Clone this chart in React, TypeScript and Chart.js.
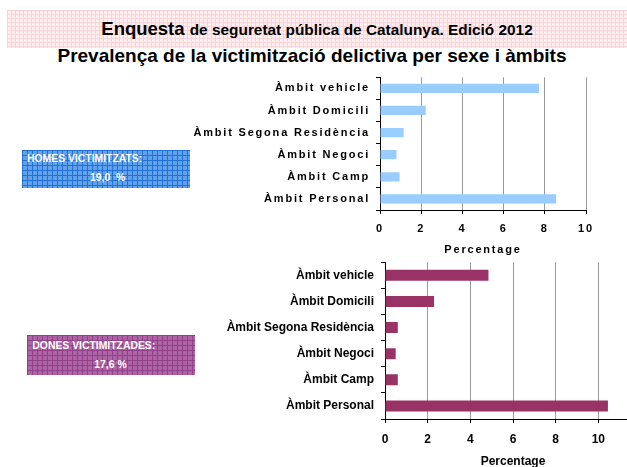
import React, { useEffect, useRef } from 'react';
import { Chart, registerables } from 'chart.js';

Chart.register(...registerables);

const categories = [
  'Àmbit vehicle',
  'Àmbit Domicili',
  'Àmbit Segona Residència',
  'Àmbit Negoci',
  'Àmbit Camp',
  'Àmbit Personal',
];
const homesValues = [7.72, 2.22, 1.15, 0.8, 0.95, 8.55];
const donesValues = [4.85, 2.3, 0.6, 0.5, 0.6, 10.45];
const homesMax = 10;
const donesMax = 12;
const tickStep = 2;
const axisTitle = 'Percentage';
const homesLabel = 'HOMES VICTIMITZATS:';
const homesTotal = '19,0  %';
const donesLabel = 'DONES VICTIMITZADES:';
const donesTotal = '17,6 %';

const FONT = '"Liberation Sans", Arial, Helvetica, sans-serif';

const spacingPlugin = (spacing: string) => ({
  id: 'letterSpacing' + spacing.replace(/\W/g, ''),
  beforeDraw(chart: any) {
    (chart.ctx as any).letterSpacing = spacing;
  },
});

function makeConfig(p: {
  values: number[];
  color: string;
  max: number;
  fontSize: number;
  padTop: number;
  padRight: number;
  yWidth: number;
  xHeight: number;
  yTickPad: number;
  xTickPad: number;
  titlePadBottom: number;
  spacing: string;
}): any {
  const font = { family: FONT, size: p.fontSize, weight: 'bold' as const };
  return {
    type: 'bar',
    data: {
      labels: categories,
      datasets: [
        {
          data: p.values,
          backgroundColor: p.color,
          borderWidth: 0,
          categoryPercentage: 1,
          barPercentage: 0.42,
        },
      ],
    },
    options: {
      indexAxis: 'y',
      responsive: false,
      animation: false,
      layout: { autoPadding: false, padding: { left: 0, top: p.padTop, right: p.padRight, bottom: 0 } },
      plugins: { legend: { display: false }, tooltip: { enabled: false } },
      scales: {
        x: {
          min: 0,
          max: p.max,
          ticks: { stepSize: tickStep, color: '#000', font, padding: p.xTickPad },
          grid: { color: '#9a9a9a', lineWidth: 1, tickColor: '#000', tickLength: 4 },
          border: { color: '#000', width: 1 },
          title: {
            display: true,
            text: axisTitle,
            color: '#000',
            font,
            padding: { top: 0, bottom: p.titlePadBottom },
          },
          afterFit: (s: any) => {
            s.height = p.xHeight;
            s.paddingLeft = 0;
            s.paddingRight = 0;
            s.paddingTop = 0;
            s.paddingBottom = 0;
          },
        },
        y: {
          ticks: { color: '#000', font, padding: p.yTickPad },
          grid: { drawOnChartArea: false, tickColor: '#000', tickLength: 4 },
          border: { color: '#000', width: 1 },
          afterFit: (s: any) => {
            s.width = p.yWidth;
            s.paddingLeft = 0;
            s.paddingRight = 0;
            s.paddingTop = 0;
            s.paddingBottom = 0;
          },
        },
      },
    },
    plugins: [spacingPlugin(p.spacing)],
  };
}

function BarChart(props: { config: any; width: number; height: number; style: React.CSSProperties }) {
  const ref = useRef<HTMLCanvasElement | null>(null);
  useEffect(() => {
    if (!ref.current) return;
    const chart = new Chart(ref.current, props.config);
    return () => chart.destroy();
  }, []);
  return (
    <canvas
      ref={ref}
      width={props.width}
      height={props.height}
      style={{ position: 'absolute', display: 'block', width: props.width, height: props.height, ...props.style }}
    />
  );
}

const boxText: React.CSSProperties = {
  position: 'absolute',
  fontFamily: FONT,
  fontWeight: 'bold',
  fontSize: '10.4px',
  lineHeight: '12px',
  color: '#fff',
  whiteSpace: 'pre',
};

export default function App() {
  const topConfig = makeConfig({
    values: homesValues,
    color: '#99ccff',
    max: homesMax,
    fontSize: 11,
    padTop: 7.3,
    padRight: 24,
    yWidth: 200,
    xHeight: 55,
    yTickPad: 6,
    xTickPad: 8,
    titlePadBottom: 8,
    spacing: '1.8px',
  });
  const bottomConfig = makeConfig({
    values: donesValues,
    color: '#993366',
    max: donesMax,
    fontSize: 12,
    padTop: 7.3,
    padRight: 19,
    yWidth: 205,
    xHeight: 56,
    yTickPad: 7,
    xTickPad: 9,
    titlePadBottom: 6,
    spacing: '0px',
  });

  return (
    <div
      style={{
        position: 'absolute',
        left: 0,
        top: 0,
        width: 627,
        height: 467,
        overflow: 'hidden',
        background: '#fff',
      }}
    >
      <div
        style={{
          position: 'absolute',
          left: 7,
          top: 10,
          width: 620,
          height: 38,
          backgroundColor: '#fdf0f1',
          backgroundImage:
            'linear-gradient(to right, #f9d3d7 1px, transparent 1px), linear-gradient(to bottom, #f9d3d7 1px, transparent 1px)',
          backgroundSize: '4px 4px',
        }}
      />
      <div
        style={{
          position: 'absolute',
          left: 7,
          top: 19,
          width: 620,
          textAlign: 'center',
          fontFamily: FONT,
          fontWeight: 'bold',
          fontSize: '18.5px',
          lineHeight: '20px',
          color: '#000',
          whiteSpace: 'nowrap',
        }}
      >
        Enquesta <span style={{ fontSize: '15.4px' }}>de seguretat pública de Catalunya. Edició 2012</span>
      </div>
      <div
        style={{
          position: 'absolute',
          left: 0,
          top: 45,
          width: 624,
          textAlign: 'center',
          fontFamily: FONT,
          fontWeight: 'bold',
          fontSize: '19px',
          lineHeight: '22px',
          color: '#000',
          whiteSpace: 'nowrap',
        }}
      >
        Prevalença de la victimització delictiva per sexe i àmbits
      </div>

      <div
        style={{
          position: 'absolute',
          left: 22,
          top: 150,
          width: 168,
          height: 38,
          backgroundColor: '#62a2ea',
          backgroundImage:
            'linear-gradient(to right, #2272d6 1px, transparent 1px), linear-gradient(to bottom, #2272d6 1px, transparent 1px)',
          backgroundSize: '5px 5px',
        }}
      />
      <div style={{ ...boxText, left: 27, top: 153.4 }}>{homesLabel}</div>
      <div style={{ ...boxText, left: 90, top: 172.1 }}>{homesTotal}</div>

      <div
        style={{
          position: 'absolute',
          left: 27,
          top: 335,
          width: 168,
          height: 40,
          backgroundColor: '#ad64a4',
          backgroundImage:
            'linear-gradient(to right, #93408b 1px, transparent 1px), linear-gradient(to bottom, #93408b 1px, transparent 1px)',
          backgroundSize: '5px 5px',
        }}
      />
      <div style={{ ...boxText, left: 32.3, top: 340.4 }}>{donesLabel}</div>
      <div style={{ ...boxText, left: 94.3, top: 358.7 }}>{donesTotal}</div>

      <BarChart config={topConfig} width={430} height={195} style={{ left: 180, top: 70 }} />
      <BarChart config={bottomConfig} width={480} height={220} style={{ left: 180, top: 255 }} />
    </div>
  );
}
